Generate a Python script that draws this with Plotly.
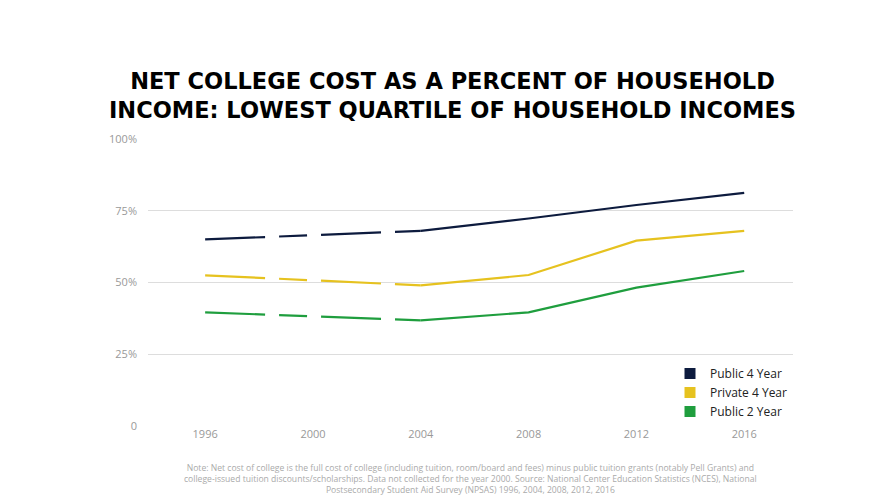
import plotly.graph_objects as go

years = [1996, 2004, 2008, 2012, 2016]
tick_years = [1996, 2000, 2004, 2008, 2012, 2016]
series = {
    "Public 4 Year": [65, 68, 72.3, 77, 81.2],
    "Private 4 Year": [52.5, 49, 52.6, 64.6, 68],
    "Public 2 Year": [39.6, 36.8, 39.6, 48.2, 54],
}
colors = {"Public 4 Year": "#0d1b3e", "Private 4 Year": "#e6c21f", "Public 2 Year": "#1f9e3e"}

fig = go.Figure()
for name, vals in series.items():
    c = colors[name]
    fig.add_trace(go.Scatter(x=years[:2], y=vals[:2], mode="lines", showlegend=False,
                             line=dict(color=c, width=2.2, dash="60px,14px,28px,14px"), hoverinfo="skip"))
    fig.add_trace(go.Scatter(x=years[1:], y=vals[1:], mode="lines", showlegend=False,
                             line=dict(color=c, width=2.2)))
    fig.add_trace(go.Scatter(x=[None], y=[None], mode="markers", name=name,
                             marker=dict(symbol="square", size=11, color=c)))

note = ("Note: Net cost of college is the full cost of college (including tuition, room/board and fees) minus public tuition grants (notably Pell Grants) and<br>"
        "college-issued tuition discounts/scholarships. Data not collected for the year 2000. Source: National Center Education Statistics (NCES), National<br>"
        "Postsecondary Student Aid Survey (NPSAS) 1996, 2004, 2008, 2012, 2016")

fig.update_layout(
    width=889, height=500, paper_bgcolor="white", plot_bgcolor="white",
    margin=dict(l=140, r=104, t=138, b=90),
    font=dict(family="Open Sans", color="#999999", size=11),
    title=dict(text="NET COLLEGE COST AS A PERCENT OF HOUSEHOLD<br>INCOME: LOWEST QUARTILE OF HOUSEHOLD INCOMES",
               x=0.5, xanchor="center", y=0.838, yanchor="middle",
               font=dict(family="DejaVu Sans", size=22.5, color="#000000", weight=900)),
    legend=dict(x=1.0, y=0.0, xanchor="right", yanchor="bottom", bgcolor="rgba(0,0,0,0)",
                font=dict(color="#222222", size=12), itemwidth=30),
    annotations=[dict(text=note, x=0.5, y=-0.12, xref="paper", yref="paper", showarrow=False,
                      yanchor="top", font=dict(size=8.6, color="#aaaaaa"))],
)
fig.update_layout(margin=dict(l=140, r=104, t=131, b=82))
fig.update_xaxes(range=[1993.88, 2017.81], tickvals=tick_years, showgrid=False, zeroline=False,
                 showline=False, tickfont=dict(size=11, color="#999999"))
fig.update_yaxes(range=[0, 100], tickvals=[0, 25, 50, 75, 100], ticktext=["0", "25%", "50%", "75%", "100%"],
                 showgrid=True, gridcolor="#dddddd", zeroline=False, ticklabelstandoff=10,
                 tickfont=dict(size=11, color="#999999"))
fig.write_html("out.html")
